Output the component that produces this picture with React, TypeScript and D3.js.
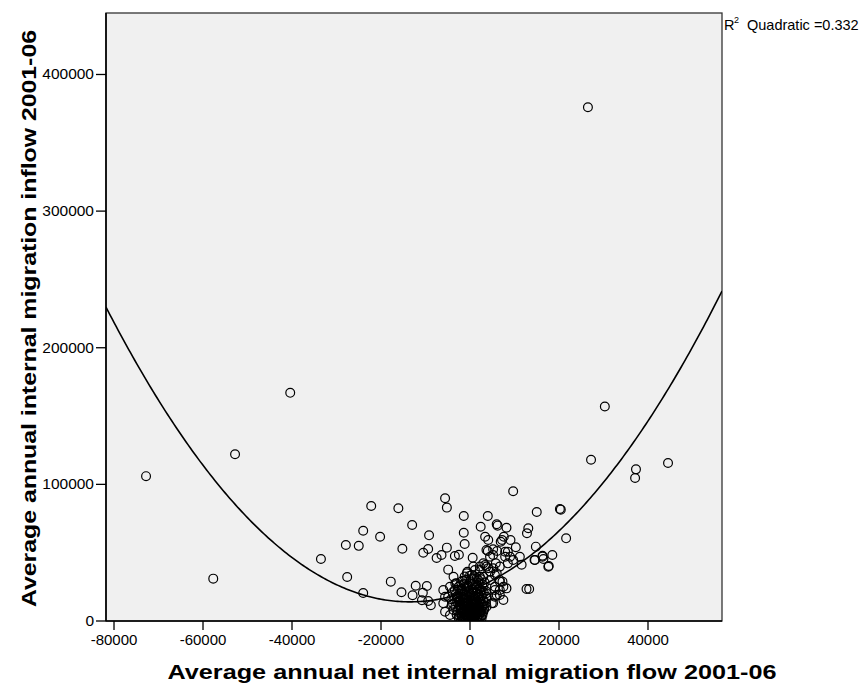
import React from "react";
import * as d3 from "d3";

// Net internal migration flow (x) and inflow (y)
const netFlow: number[] = [
  26500, -40400, 30300, -52800, -72800, -57700, 27200, 44500, 37300, 37100,
  9700, 20200, 20400, 15000, 21600, -5600, -5200, -22200, -16100, -13000,
  -20200, -24000, -27900, -25000, -33500, -27600, -24000, -17800, -15400, -15200,
  -9200, -10500, -9400, -7500, -6400, -5200, -3400, -2500, -1400, -1400,
  -1200, 600, -4900, -12200, -9700, -12900, -10600, -10800, -8800, -9400,
  -6000, -5600, -6000, -5600, -4500,
  4000, 2400, 6000, 6200, 8200, 3400, 4100, 7600, 7200, 6900,
  9100, 4000, 6100, 7900, 10300, 13100, 12800, 14800, 14500, 16300,
  16500, 18500, 17700, 11600, 12700, 13300, 9000, 5200, 5800, 6700,
  8500, 3400, 4100, 2200, 750, 4500, 5600, 6700, 7300, 5600,
  6700, 8200, 6000, 4900, 3700, -3700, -3000, -4500, -3400, -3000,
  -2200, -4900, -4100, -3700, -700, 400, 1100, 1500, 2200,
  3700, 5200, 4500, 7900, 8500, 9700, 11200, 14600, 16300, 17600,
  3000, 3700, 2200, 5200, 6000, 3000, 4500, 6700, 7500, 5600,
  3700, 5600, 6700, 7500, 5200, 3700, 3000,
  -2500, -1800, -1200, -600, 0, 500, 1000, 1600, 2200, -3000,
  -2200, -1500, -800, -200, 300, 900, 1500, 2100, 2800, -2800,
  -2000, -1300, -700, 100, 700, 1300, 1900, 2600, 3200, -3300,
  -2400, -1700, -1000, -300, 400, 1100, 1800, 2400, 3100, -2900,
  -2100, -1300, -500, 200, 900, 1600, 2300, 3000, -3500, -2600,
  -1800, -1000, -200, 500, 1200, 2000, 2700, -3200, -2300, -1500,
  -700, 100, 800, 1500, 2300, 3100, -2700, -1900, -1100, -300,
  500, 1300, 2100, 2900, -2200, -1300, -500, 400, 1200, 2000,
  2800, -1700, -800, 100, 1000, 1900, -1200, 0, 900, -600,
  -1500, -400, 800, 1800, -2000, 300, -900, 1200, 2500, -1600,
  600, 2000, -2500, -400, 1500, 2800, -1400, 700, -3800, 3600,
  -4200, 3800, -3900, 3600, -200, 1700, -2600, 2500, -3300, 3300,
  50, -300, 400, -1000, 1300, -1900, 2000, 0, -700, 1000,
  -1500, -500, 600, 1600, 2600, -2400, 1000, -800, 200, 1300,
  -1900, -300, 900, 2300, -1100, 400, 1600, -2100, 0, 2000,
  -1500, 700, 2700, -600, 1400, -2400, 300, 2200, -1200, 1000,
  -2800, 0, 1900, -1700, 400, 2600, -900, 1600, -2000, 600,
];

const inflow: number[] = [
  376000, 167000, 157000, 122000, 106000, 31000, 118000, 115600, 111000, 104700,
  95000, 82000, 81500, 79800, 60500, 89800, 83000, 84200, 82500, 70300,
  61700, 66000, 55600, 55000, 45400, 32200, 20500, 28800, 21000, 52900,
  62700, 50000, 52700, 46100, 48300, 53700, 47600, 48500, 76900, 64600,
  56400, 46300, 37600, 25800, 25600, 18800, 20700, 15200, 11500, 14600,
  22700, 17800, 13000, 6800, 4400,
  76900, 69000, 70800, 69800, 68300, 61700, 59300, 61700, 59300, 58000,
  59300, 51200, 51200, 50700, 54000, 67900, 64200, 54400, 44700, 47100,
  45400, 48300, 40300, 41200, 23400, 23400, 47000, 48300, 42200, 39800,
  42200, 41000, 38600, 39800, 39800, 36100, 33700, 30000, 28800, 25100,
  22700, 23900, 19000, 13000, 17800, 32400, 27600, 25100, 22700, 17800,
  15400, 17800, 11700, 8000, 34900, 33700, 37300, 31300, 32400,
  52000, 52500, 47000, 47000, 50700, 44700, 47000, 44700, 47800, 39700,
  42200, 39800, 37300, 38600, 34900, 32400, 30000, 28800, 25100, 22700,
  20300, 17800, 19000, 15400, 13000, 10500, 6800,
  2000, 3500, 1500, 2800, 1200, 2500, 1800, 3000, 2200, 4500,
  5500, 6200, 5000, 6500, 4800, 5800, 6600, 5200, 4300, 7800,
  8500, 9200, 7600, 8800, 9600, 8200, 9000, 7500, 8600, 10500,
  11200, 12000, 10800, 11800, 10400, 12300, 11100, 12800, 11600, 13500,
  14200, 13600, 14800, 13900, 15100, 14300, 15600, 14500, 15800, 16800,
  17500, 16600, 17800, 16900, 18000, 17200, 18500, 19500, 20200, 19000,
  20800, 19800, 21200, 20300, 21600, 20800, 22800, 23500, 22400, 24000,
  23100, 24500, 23700, 24800, 26200, 27000, 25800, 27300, 26500, 27800,
  26900, 29500, 30200, 29000, 30800, 29800, 32500, 33200, 32800, 36000,
  1000, 800, 600, 900, 500, 300, 4000, 4200, 3400, 7000,
  7200, 7800, 9800, 9000, 10000, 10200, 15400, 12800, 12600, 13200,
  16000, 16500, 21000, 22000, 22000, 22800, 25000, 30500, 27500, 28200,
  400, 1800, 1500, 2600, 700, 3000, 1200, 4000, 12600, 13800,
  2200, 3300, 3600, 1400, 1800, 3800, 700, 600, 5600, 5400,
  6600, 7400, 7000, 6400, 8300, 9100, 8900, 10200, 10400, 10600,
  11500, 11300, 12000, 13200, 12600, 14800, 15000, 14000, 16200, 16400,
  18200, 18600, 19200, 21800, 20800, 22400, 25500, 26000, 28600, 31000,
];

const xTicks: number[] = [-80000, -60000, -40000, -20000, 0, 20000, 40000];
const yTicks: number[] = [0, 100000, 200000, 300000, 400000];

// Quadratic fit: inflow = a + b*x + c*x^2
const fitA = 22430;
const fitB = 1.249;
const fitC = 4.625e-5;
const rSquared = "0.332";

const xTitle = "Average annual net internal migration flow 2001-06";
const yTitle = "Average annual internal migration inflow 2001-06";

const W = 863;
const H = 683;
const L = 106;
const R = 722;
const T = 13;
const B = 621;

export default function App() {
  const x = d3.scaleLinear().domain([-81800, 56630]).range([L, R]);
  const y = d3.scaleLinear().domain([0, 445000]).range([B, T]);

  const fitXs = d3.range(0, 301).map((i) => x.invert(L + ((R - L) * i) / 300));
  const line = d3
    .line<number>()
    .x((v) => x(v))
    .y((v) => y(fitA + fitB * v + fitC * v * v));

  const pts = netFlow.map((v, i) => [v, inflow[i]] as [number, number]);
  const font = "Arial, 'Liberation Sans', sans-serif";

  return (
    <div style={{ position: "absolute", left: 0, top: 0 }}>
      <svg width={W} height={H} style={{ display: "block", fontFamily: font }}>
        <rect x={0} y={0} width={W} height={H} fill="#ffffff" />
        <defs>
          <clipPath id="plotclip">
            <rect x={L} y={T} width={R - L} height={B - T} />
          </clipPath>
        </defs>
        <rect x={L} y={T} width={R - L} height={B - T} fill="#f0f0f0" stroke="#333" strokeWidth={1.3} />
        <g clipPath="url(#plotclip)">
          {pts.map(([a, b], i) => (
            <circle key={i} cx={x(a)} cy={y(b)} r={4.4} fill="none" stroke="#000" strokeWidth={1.2} />
          ))}
          <path d={line(fitXs) || ""} fill="none" stroke="#000" strokeWidth={1.6} />
        </g>
        <line x1={L} x2={L} y1={T} y2={B} stroke="#000" strokeWidth={1.6} />
        <line x1={L} x2={R} y1={B} y2={B} stroke="#000" strokeWidth={1.6} />
        {yTicks.map((t) => (
          <g key={t}>
            <line x1={L - 10} x2={L} y1={y(t)} y2={y(t)} stroke="#000" strokeWidth={1.3} />
            <text x={L - 12} y={y(t) + 5} textAnchor="end" fontSize={15.5} fill="#000">
              {t}
            </text>
          </g>
        ))}
        {xTicks.map((t) => (
          <g key={t}>
            <line x1={x(t)} x2={x(t)} y1={B} y2={B + 9} stroke="#000" strokeWidth={1.3} />
            <text x={x(t)} y={B + 24} textAnchor="middle" fontSize={15} fill="#000">
              {t}
            </text>
          </g>
        ))}
        <text
          x={472}
          y={679}
          textAnchor="middle"
          fontSize={20.5}
          fontWeight="bold"
          fill="#000"
          textLength={609}
          lengthAdjust="spacingAndGlyphs"
        >
          {xTitle}
        </text>
        <text
          transform={`translate(36,318.5) rotate(-90)`}
          textAnchor="middle"
          fontSize={20}
          fontWeight="bold"
          fill="#000"
          textLength={577}
          lengthAdjust="spacingAndGlyphs"
        >
          {yTitle}
        </text>
        <text x={724} y={30} fontSize={14.5} fill="#000">
          R
        </text>
        <text x={734} y={23} fontSize={9} fill="#000">
          2
        </text>
        <text x={747} y={30} fontSize={14.5} fill="#000">
          {"Quadratic =" + rSquared}
        </text>
      </svg>
    </div>
  );
}
